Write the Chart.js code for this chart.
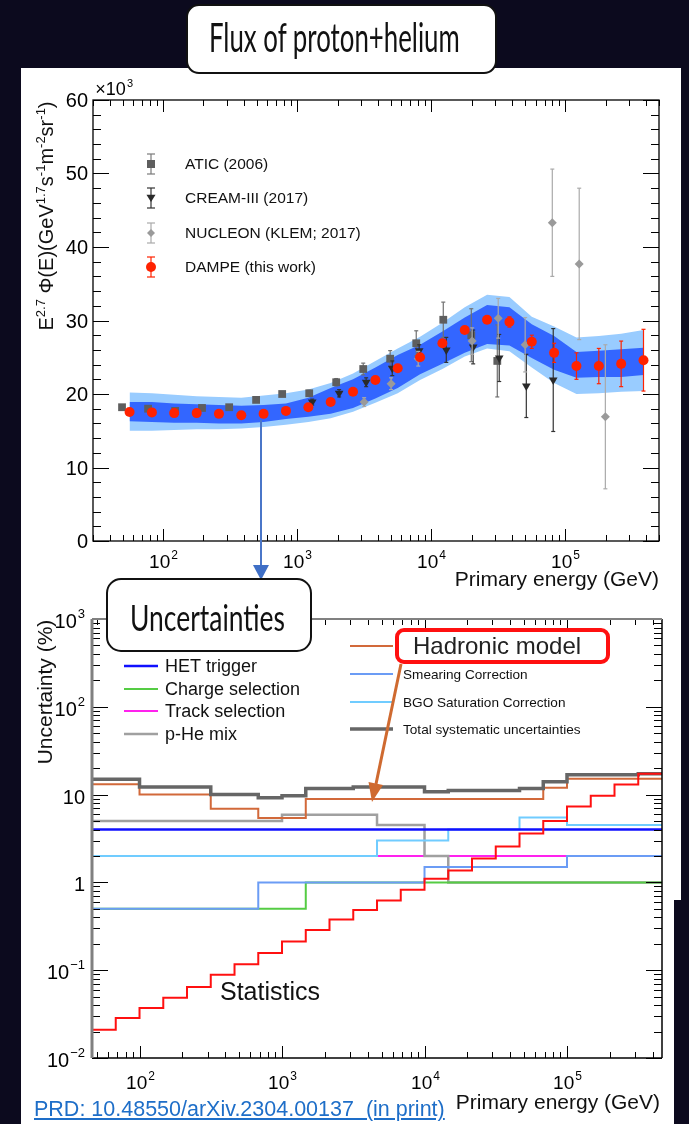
<!DOCTYPE html>
<html>
<head>
<meta charset="utf-8">
<script src="https://cdn.jsdelivr.net/npm/chart.js@4.4.1/dist/chart.umd.min.js"></script>
<style>
html, body { margin: 0; padding: 0; }
body { width: 689px; height: 1124px; background: #0c0a1e; position: relative; overflow: hidden;
       font-family: "Liberation Sans", Arial, sans-serif; color: #111; }
.panel { position: absolute; background: #fff; }
canvas { position: absolute; left: 0; z-index: 1; }
svg { position: absolute; left: 0; top: 0; z-index: 2; }
.box { position: absolute; background: #fff; border: 2px solid #111; border-radius: 13px; box-sizing: border-box; z-index: 3; }
.boxtxt { position: absolute; white-space: nowrap; font-family: Lato, "Open Sans", sans-serif; font-weight: 400;
          line-height: 1; color: #111; transform-origin: 0 0; z-index: 4; }
.ytitle { position: absolute; white-space: nowrap; font-size: 20px; line-height: 20px;
          transform: translate(-50%, -50%) rotate(-90deg); z-index: 2; }
.sup { font-size: 13px; position: relative; top: -8px; }
.xtitle { position: absolute; white-space: nowrap; font-size: 21px; line-height: 22px; z-index: 2; }
#hadBox { position: absolute; left: 395px; top: 628px; width: 215px; height: 36px; border: 4px solid #ff1010;
          border-radius: 9px; box-sizing: border-box; background: #fff; z-index: 3; }
#hadTxt { position: absolute; left: 413px; top: 633px; font-size: 24px; line-height: 26px; color: #222; z-index: 4; white-space: nowrap; }
#link { position: absolute; left: 34px; top: 1098px; font-size: 21.5px; line-height: 22px; color: #1e6ec8;
        text-decoration: underline; white-space: nowrap; z-index: 2; }
</style>
</head>
<body>
<div class="panel" style="left:21px;top:68px;width:660px;height:832px;"></div>
<div class="panel" style="left:21px;top:899px;width:653px;height:225px;"></div>

<canvas id="fluxChart" width="689" height="530" style="top:70px"></canvas>
<canvas id="uncChart" width="689" height="524" style="top:600px"></canvas>

<svg width="689" height="1124">
  <line x1="261" y1="420" x2="261" y2="566" stroke="#4a76c8" stroke-width="2"/>
  <polygon points="253,565 269,565 261,580" fill="#3f6fc6"/>
  <line x1="401" y1="664" x2="376" y2="784" stroke="#cf6a30" stroke-width="3"/>
  <polygon points="368.5,782 383,785 372,802" fill="#cf6a30"/>
</svg>

<div class="box" style="left:186px;top:4px;width:311px;height:70px;"></div>
<div class="boxtxt" id="t1" style="left:209px;top:17px;font-size:40px;">Flux of proton+helium</div>
<div class="box" style="left:106px;top:578px;width:206px;height:74px;border-width:2.5px;border-radius:15px;"></div>
<div class="boxtxt" id="t2" style="left:130px;top:599px;font-size:36px;">Uncertainties</div>

<div class="ytitle" style="left:47px;top:216px;">E<span class="sup">2.7</span> Φ(E)(GeV<span class="sup">1.7</span>s<span class="sup">-1</span>m<span class="sup">-2</span>sr<span class="sup">-1</span>)</div>
<div class="ytitle" style="left:45px;top:692px;font-size:21px;">Uncertainty (%)</div>
<div class="xtitle" style="right:30px;top:568px;">Primary energy (GeV)</div>
<div class="xtitle" style="right:29px;top:1091px;">Primary energy (GeV)</div>

<div id="hadBox"></div>
<div id="hadTxt">Hadronic model</div>
<div id="link">PRD: 10.48550/arXiv.2304.00137&nbsp; (in print)</div>

<script>
// upper panel: E^2.7 x flux, in units of 10^3 (GeV^1.7 s^-1 m^-2 sr^-1)
var eDampe = [56.2, 82.5, 121, 178, 261, 383, 562, 825, 1212, 1778, 2610, 3831, 5623, 8254,
              12115, 17783, 26102, 38312, 56234, 82540, 121153, 177828, 261016, 383119];
var fluxDampe = [17.55, 17.5, 17.4, 17.4, 17.3, 17.1, 17.3, 17.7, 18.2, 18.9, 20.3, 21.9, 23.5, 25.0,
                 26.9, 28.7, 30.1, 29.8, 27.1, 25.6, 23.8, 23.8, 24.1, 24.6];
var errDampe = [0.3, 0.3, 0.3, 0.3, 0.3, 0.3, 0.3, 0.3, 0.3, 0.3, 0.3, 0.3, 0.3, 0.3,
                0.35, 0.4, 0.5, 0.7, 0.9, 1.3, 1.8, 2.4, 3.1, 4.2];
// systematic bands (inner = dark, outer = light)
var innerHi = [18.9, 18.9, 18.7, 18.6, 18.5, 18.4, 18.5, 18.7, 19.5, 20.8, 22.0, 23.6, 25.3, 26.7,
               28.5, 30.4, 32.1, 31.8, 29.5, 27.9, 25.7, 25.9, 26.1, 26.3];
var innerLo = [16.3, 16.2, 16.1, 16.1, 16.0, 16.0, 16.2, 16.6, 16.9, 17.3, 18.1, 19.4, 20.8, 22.7,
               24.1, 25.6, 26.8, 26.6, 24.9, 23.3, 22.2, 22.3, 22.3, 22.6];
var outerHi = [20.2, 20.1, 19.9, 19.7, 19.6, 19.5, 19.8, 20.1, 20.6, 21.5, 22.8, 24.5, 26.2, 27.8,
               29.7, 31.8, 33.5, 33.2, 30.5, 29.2, 27.7, 27.9, 28.2, 28.7];
var outerLo = [15.0, 15.0, 15.1, 15.2, 15.2, 15.3, 15.5, 15.8, 16.2, 16.7, 17.6, 18.8, 20.1, 21.9,
               23.4, 25.1, 26.2, 25.8, 23.6, 21.5, 20.0, 20.1, 20.3, 20.4];

var eAtic = [49.4, 77.3, 123, 195, 311, 494, 773, 1230, 1955, 3110, 4940, 7730, 12300, 19900, 31100];
var fluxAtic = [18.2, 18.0, 17.7, 18.1, 18.2, 19.2, 20.0, 20.1, 21.6, 23.4, 24.8, 26.9, 30.1, 28.0, 24.5];
var errAtic = [0.3, 0.3, 0.3, 0.3, 0.3, 0.3, 0.3, 0.4, 0.5, 0.8, 1.1, 1.7, 2.4, 3.6, 4.9];

var eCream = [1295, 2056, 3270, 5120, 8130, 12950, 20550, 32150, 51200, 81300];
var fluxCream = [18.9, 20.1, 21.6, 23.5, 25.9, 26.0, 26.4, 24.9, 21.1, 21.9];
var errCream = [0.4, 0.5, 0.6, 1.0, 0.8, 1.7, 2.3, 3.2, 4.3, 7.0];

var eNucleon = [3160, 5020, 8000, 20200, 31600, 50200, 80000, 127000, 199000];
var fluxNucleon = [18.9, 21.4, 24.8, 27.2, 30.3, 26.7, 43.3, 37.7, 16.9];
var errNucleon = [0.6, 0.8, 1.0, 1.8, 2.7, 3.7, 7.3, 10.3, 9.8];

// lower panel: uncertainties (%) per energy bin, 24 bins
var binEdges = [46.4, 68.1, 100, 146.8, 215.4, 316.2, 464.2, 681.3, 1000, 1468, 2154, 3162, 4642,
                6813, 10000, 14678, 21544, 31623, 46416, 68129, 100000, 146780, 215443, 316228, 464159];
var statistics = [0.021, 0.0285, 0.037, 0.0485, 0.0645, 0.0885, 0.117, 0.157, 0.212, 0.287, 0.377, 0.484,
                  0.624, 0.826, 1.1, 1.37, 1.87, 2.57, 3.6, 5.0, 7.3, 9.7, 13.0, 17.3];
var hetTrigger = [4, 4, 4, 4, 4, 4, 4, 4, 4, 4, 4, 4, 4, 4, 4, 4, 4, 4, 4, 4, 4, 4, 4, 4];
var chargeSel = [0.5, 0.5, 0.5, 0.5, 0.5, 0.5, 0.5, 0.5, 0.5, 1, 1, 1, 1, 1, 1, 1, 1, 1, 1, 1, 1, 1, 1, 1];
var trackSel = [2, 2, 2, 2, 2, 2, 2, 2, 2, 2, 2, 2, 2, 2, 2, 2, 2, 2, 2, 2, 2, 2, 2, 2];
var pHeMix = [5, 5, 5, 5, 5, 5, 5, 5, 5.9, 5.9, 5.9, 5.9, 4.5, 4.5, 2, 1, 1, 1, 1, 1, 1, 1, 1, 1];
var hadronic = [13.1, 13.1, 10, 10, 10, 6.9, 6.9, 5.4, 5.4, 8.9, 8.9, 8.9, 8.9, 8.9, 8.9, 8.9, 8.9, 8.9,
                8.9, 12.0, 15.2, 15.2, 15.2, 15.2];
var smearing = [0.5, 0.5, 0.5, 0.5, 0.5, 0.5, 0.5, 1, 1, 1, 1, 1, 1, 1, 1.5, 1.5, 1.5, 1.5, 1.5, 1.5, 2, 2, 2, 2];
var bgoSat = [2, 2, 2, 2, 2, 2, 2, 2, 2, 2, 2, 2, 3, 3, 3, 4, 4, 4, 5.5, 5.5, 4.5, 4.5, 4.5, 4.5];
var totalSys = [15.0, 15.0, 12.2, 12.2, 12.2, 10.0, 10.0, 9.2, 9.7, 11.7, 11.7, 12.2, 12.2, 12.2, 10.8,
                11.1, 11.1, 11.1, 11.7, 14.0, 16.8, 16.8, 16.8, 17.3];

var FONT = '"Liberation Sans", Arial, sans-serif';
var FLUX_TOP = 70, UNC_TOP = 600;

function pts(xs, ys) {
    return xs.map(function(x, i) { return {x: x, y: ys[i]}; });
}
// histogram: one point per bin edge, last bin value repeated at the right edge
function steps(edges, vals) {
    return edges.map(function(x, i) { return {x: x, y: vals[Math.min(i, vals.length - 1)]}; });
}

function powLabel(ctx, x, y, base, exp, align, size) {
    var small = Math.round(size * 0.63);
    ctx.font = size + 'px ' + FONT;
    var wb = ctx.measureText(base).width;
    ctx.font = small + 'px ' + FONT;
    var we = exp ? ctx.measureText(exp).width + 1 : 0;
    var x0 = align == 'center' ? x - (wb + we) / 2 : x - wb - we;
    ctx.textAlign = 'left';
    ctx.textBaseline = 'alphabetic';
    ctx.font = size + 'px ' + FONT;
    ctx.fillText(base, x0, y);
    if (exp) {
        ctx.font = small + 'px ' + FONT;
        ctx.fillText(exp, x0 + wb + 1, y - size * 0.47);
    }
}

function logTicks(min, max) {
    var out = [];
    for (var e = Math.floor(Math.log10(min)); e <= Math.ceil(Math.log10(max)); e++) {
        for (var m = 1; m <= 9; m++) {
            var v = m * Math.pow(10, e);
            if (v >= min * 0.999 && v <= max * 1.001) out.push({v: v, major: m == 1, exp: e});
        }
    }
    return out;
}

function line(ctx, x1, y1, x2, y2) {
    ctx.beginPath();
    ctx.moveTo(x1, y1);
    ctx.lineTo(x2, y2);
    ctx.stroke();
}

function marker(ctx, style, x, y, r, color) {
    ctx.fillStyle = color;
    ctx.beginPath();
    if (style == 'rect') {
        ctx.rect(x - r, y - r, 2 * r, 2 * r);
    } else if (style == 'down') {
        ctx.moveTo(x - r, y - r * 0.7);
        ctx.lineTo(x + r, y - r * 0.7);
        ctx.lineTo(x, y + r * 0.9);
        ctx.closePath();
    } else if (style == 'diamond') {
        ctx.moveTo(x, y - r); ctx.lineTo(x + r, y); ctx.lineTo(x, y + r); ctx.lineTo(x - r, y);
        ctx.closePath();
    } else {
        ctx.arc(x, y, r, 0, Math.PI * 2);
    }
    ctx.fill();
}

function errBar(ctx, x, y1, y2, cap, color) {
    ctx.strokeStyle = color;
    ctx.lineWidth = 1.2;
    line(ctx, x, y1, x, y2);
    line(ctx, x - cap, y1, x + cap, y1);
    line(ctx, x - cap, y2, x + cap, y2);
}

// error bars drawn just before the markers of their dataset
var errorBars = {
    id: 'errorBars',
    beforeDatasetDraw: function(chart, args) {
        var ds = chart.data.datasets[args.index];
        if (!ds.errors) return;
        var ctx = chart.ctx, xs = chart.scales.x, ys = chart.scales.y;
        ctx.save();
        for (var i = 0; i < ds.data.length; i++) {
            var px = xs.getPixelForValue(ds.data[i].x);
            errBar(ctx, px, ys.getPixelForValue(ds.data[i].y + ds.errors[i]),
                   ys.getPixelForValue(ds.data[i].y - ds.errors[i]), 2, ds.errColor);
        }
        ctx.restore();
    }
};

var fluxFrame = {
    id: 'fluxFrame',
    afterDraw: function(chart) {
        var ctx = chart.ctx, ca = chart.chartArea, xs = chart.scales.x, ys = chart.scales.y;
        ctx.save();
        ctx.strokeStyle = '#000';
        ctx.fillStyle = '#000';
        ctx.lineWidth = 1.3;
        ctx.strokeRect(ca.left, ca.top, ca.right - ca.left, ca.bottom - ca.top);
        ctx.lineWidth = 1;
        logTicks(xs.min, xs.max).forEach(function(t) {
            var px = Math.round(xs.getPixelForValue(t.v)) + 0.5;
            var len = t.major ? 12 : 6;
            line(ctx, px, ca.bottom, px, ca.bottom - len);
            line(ctx, px, ca.top, px, ca.top + len);
            if (t.major && t.exp >= 2) powLabel(ctx, px, ca.bottom + 27, '10', String(t.exp), 'center', 19);
        });
        for (var v = ys.min; v <= ys.max; v += 2) {
            var py = Math.round(ys.getPixelForValue(v)) + 0.5;
            var len = v % 10 == 0 ? 16 : 8;
            line(ctx, ca.left, py, ca.left + len, py);
            line(ctx, ca.right, py, ca.right - len, py);
            if (v % 10 == 0) {
                ctx.font = '20px ' + FONT;
                ctx.textAlign = 'right';
                ctx.textBaseline = 'middle';
                ctx.fillText(String(v), ca.left - 5, py + 1);
            }
        }
        powLabel(ctx, ca.left + 40, ca.top - 5, '\u00d710', '3', 'right', 18);

        // legend
        var rows = [
            {t: 'ATIC (2006)', s: 'rect', r: 4, c: '#5e5e5e', e: '#7a7a7a'},
            {t: 'CREAM-III (2017)', s: 'down', r: 4.5, c: '#2a2a2a', e: '#333'},
            {t: 'NUCLEON (KLEM; 2017)', s: 'diamond', r: 4, c: '#9a9a9a', e: '#aaa'},
            {t: 'DAMPE (this work)', s: 'circle', r: 5, c: '#ff2200', e: '#ff2200'}
        ];
        var ly = [164, 198, 233, 267];
        rows.forEach(function(row, i) {
            var y = ly[i] - FLUX_TOP;
            errBar(ctx, 151, y - 10, y + 10, 4, row.e);
            marker(ctx, row.s, 151, y, row.r, row.c);
            ctx.fillStyle = '#111';
            ctx.font = '15.5px ' + FONT;
            ctx.textAlign = 'left';
            ctx.textBaseline = 'middle';
            ctx.fillText(row.t, 185, y + 1);
        });
        ctx.restore();
    }
};

var uncFrame = {
    id: 'uncFrame',
    afterDraw: function(chart) {
        var ctx = chart.ctx, ca = chart.chartArea, xs = chart.scales.x, ys = chart.scales.y;
        ctx.save();
        ctx.strokeStyle = '#000';
        ctx.fillStyle = '#000';
        ctx.lineWidth = 1;
        logTicks(xs.min, xs.max).forEach(function(t) {
            var px = Math.round(xs.getPixelForValue(t.v)) + 0.5;
            var len = t.major ? 12 : 6;
            line(ctx, px, ca.bottom, px, ca.bottom - len);
            line(ctx, px, ca.top, px, ca.top + len);
            if (t.major && t.exp >= 2) powLabel(ctx, px, ca.bottom + 31, '10', String(t.exp), 'center', 19);
        });
        logTicks(ys.min, ys.max).forEach(function(t) {
            var py = Math.round(ys.getPixelForValue(t.v)) + 0.5;
            var len = t.major ? 16 : 8;
            line(ctx, ca.left, py, ca.left + len, py);
            line(ctx, ca.right, py, ca.right - len, py);
            if (t.major) {
                var base = t.exp == 0 ? '1' : '10';
                var exp = (t.exp == 0 || t.exp == 1) ? '' : (t.exp < 0 ? '\u2212' + (-t.exp) : String(t.exp));
                powLabel(ctx, ca.left - 7, py + 8, base, exp, 'right', 20);
            }
        });
        ctx.lineWidth = 1.5;
        line(ctx, ca.left, ca.bottom, ca.right, ca.bottom);
        line(ctx, ca.right, ca.top, ca.right, ca.bottom);
        ctx.strokeStyle = '#808080';
        ctx.lineWidth = 2;
        line(ctx, ca.left, ca.top, ca.right, ca.top);
        ctx.lineWidth = 3;
        line(ctx, ca.left, ca.top, ca.left, ca.bottom);

        // legend
        ctx.textAlign = 'left';
        ctx.textBaseline = 'middle';
        var left = [
            {t: 'HET trigger', c: '#1010ff', w: 2.5, y: 666},
            {t: 'Charge selection', c: '#55cc44', w: 2, y: 689},
            {t: 'Track selection', c: '#ff22ee', w: 2, y: 711},
            {t: 'p-He mix', c: '#a0a0a0', w: 2.5, y: 734}
        ];
        left.forEach(function(r) {
            ctx.strokeStyle = r.c;
            ctx.lineWidth = r.w;
            line(ctx, 124, r.y - UNC_TOP, 158, r.y - UNC_TOP);
            ctx.fillStyle = '#111';
            ctx.font = '18px ' + FONT;
            ctx.fillText(r.t, 165, r.y - UNC_TOP + 1);
        });
        var right = [
            {t: '', c: '#d2693a', w: 2, y: 646},
            {t: 'Smearing Correction', c: '#6b9cf5', w: 2, y: 674},
            {t: 'BGO Saturation Correction', c: '#70ccff', w: 2, y: 702},
            {t: 'Total systematic uncertainties', c: '#666', w: 3.5, y: 729}
        ];
        right.forEach(function(r) {
            ctx.strokeStyle = r.c;
            ctx.lineWidth = r.w;
            line(ctx, 350, r.y - UNC_TOP, 393, r.y - UNC_TOP);
            ctx.fillStyle = '#111';
            ctx.font = '13.6px ' + FONT;
            ctx.fillText(r.t, 403, r.y - UNC_TOP + 1);
        });
        ctx.font = '25px ' + FONT;
        ctx.fillStyle = '#111';
        ctx.fillText('Statistics', 220, 993 - UNC_TOP);
        ctx.restore();
    }
};

function pointSet(label, xs, ys, errs, style, r, color, errColor, rot) {
    return {label: label, data: pts(xs, ys), errors: errs, errColor: errColor, showLine: false,
            pointStyle: style, pointRadius: r, pointRotation: rot || 0,
            pointBackgroundColor: color, pointBorderWidth: 0, borderWidth: 0};
}
function bandSet(label, vals, fill, color) {
    return {label: label, data: pts(eDampe, vals), showLine: true, pointRadius: 0, borderWidth: 0,
            borderColor: color, backgroundColor: color, fill: fill, tension: 0};
}
function histSet(label, vals, color, width) {
    return {label: label, data: steps(binEdges, vals), stepped: true, pointRadius: 0, fill: false,
            borderColor: color, borderWidth: width, borderCapStyle: 'square'};
}

function init() {
    new Chart(document.getElementById('fluxChart'), {
        type: 'line',
        data: {
            datasets: [
                pointSet('DAMPE (this work)', eDampe, fluxDampe, errDampe, 'circle', 5, '#ff2200', '#ff2200'),
                pointSet('NUCLEON (KLEM; 2017)', eNucleon, fluxNucleon, errNucleon, 'rectRot', 4.5, '#9a9a9a', '#aaaaaa'),
                pointSet('CREAM-III (2017)', eCream, fluxCream, errCream, 'triangle', 5, '#2a2a2a', '#333333', 180),
                pointSet('ATIC (2006)', eAtic, fluxAtic, errAtic, 'rect', 5.5, '#5e5e5e', '#707070'),
                bandSet('inner high', innerHi, '+1', '#3366ff'),
                bandSet('inner low', innerLo, false, '#3366ff'),
                bandSet('outer high', outerHi, '+1', '#99ccff'),
                bandSet('outer low', outerLo, false, '#99ccff')
            ]
        },
        options: {
            responsive: false,
            animation: false,
            devicePixelRatio: 1,
            events: [],
            layout: {padding: {left: 93, top: 30, right: 30, bottom: 59}},
            plugins: {legend: {display: false}, tooltip: {enabled: false}},
            scales: {
                x: {type: 'logarithmic', min: 30, max: 500000, display: false},
                y: {type: 'linear', min: 0, max: 60, display: false}
            }
        },
        plugins: [errorBars, fluxFrame]
    });

    new Chart(document.getElementById('uncChart'), {
        type: 'line',
        data: {
            datasets: [
                histSet('Statistics', statistics, '#ff1010', 2),
                histSet('Total systematic uncertainties', totalSys, '#666666', 3.5),
                histSet('Hadronic model', hadronic, '#d2693a', 2),
                histSet('HET trigger', hetTrigger, '#1010ff', 2.5),
                histSet('Smearing Correction', smearing, '#6b9cf5', 2),
                histSet('BGO Saturation Correction', bgoSat, '#70ccff', 2),
                histSet('Charge selection', chargeSel, '#55cc44', 2),
                histSet('p-He mix', pHeMix, '#a0a0a0', 2.5),
                histSet('Track selection', trackSel, '#ff22ee', 2)
            ]
        },
        options: {
            responsive: false,
            animation: false,
            devicePixelRatio: 1,
            events: [],
            layout: {padding: {left: 92, top: 19, right: 27, bottom: 66}},
            plugins: {legend: {display: false}, tooltip: {enabled: false}},
            scales: {
                x: {type: 'logarithmic', min: 46.4, max: 464159, display: false},
                y: {type: 'logarithmic', min: 0.01, max: 1000, display: false}
            }
        },
        plugins: [uncFrame]
    });

    // squeeze the box titles to the condensed width of the original
    var fit = function() {
        [['t1', 251], ['t2', 155]].forEach(function(p) {
            var el = document.getElementById(p[0]);
            el.style.transform = 'scaleX(' + (p[1] / el.offsetWidth) + ')';
        });
    };
    fit();
    if (document.fonts && document.fonts.ready) document.fonts.ready.then(fit);
}
window.onload = init;
</script>
</body>
</html>
